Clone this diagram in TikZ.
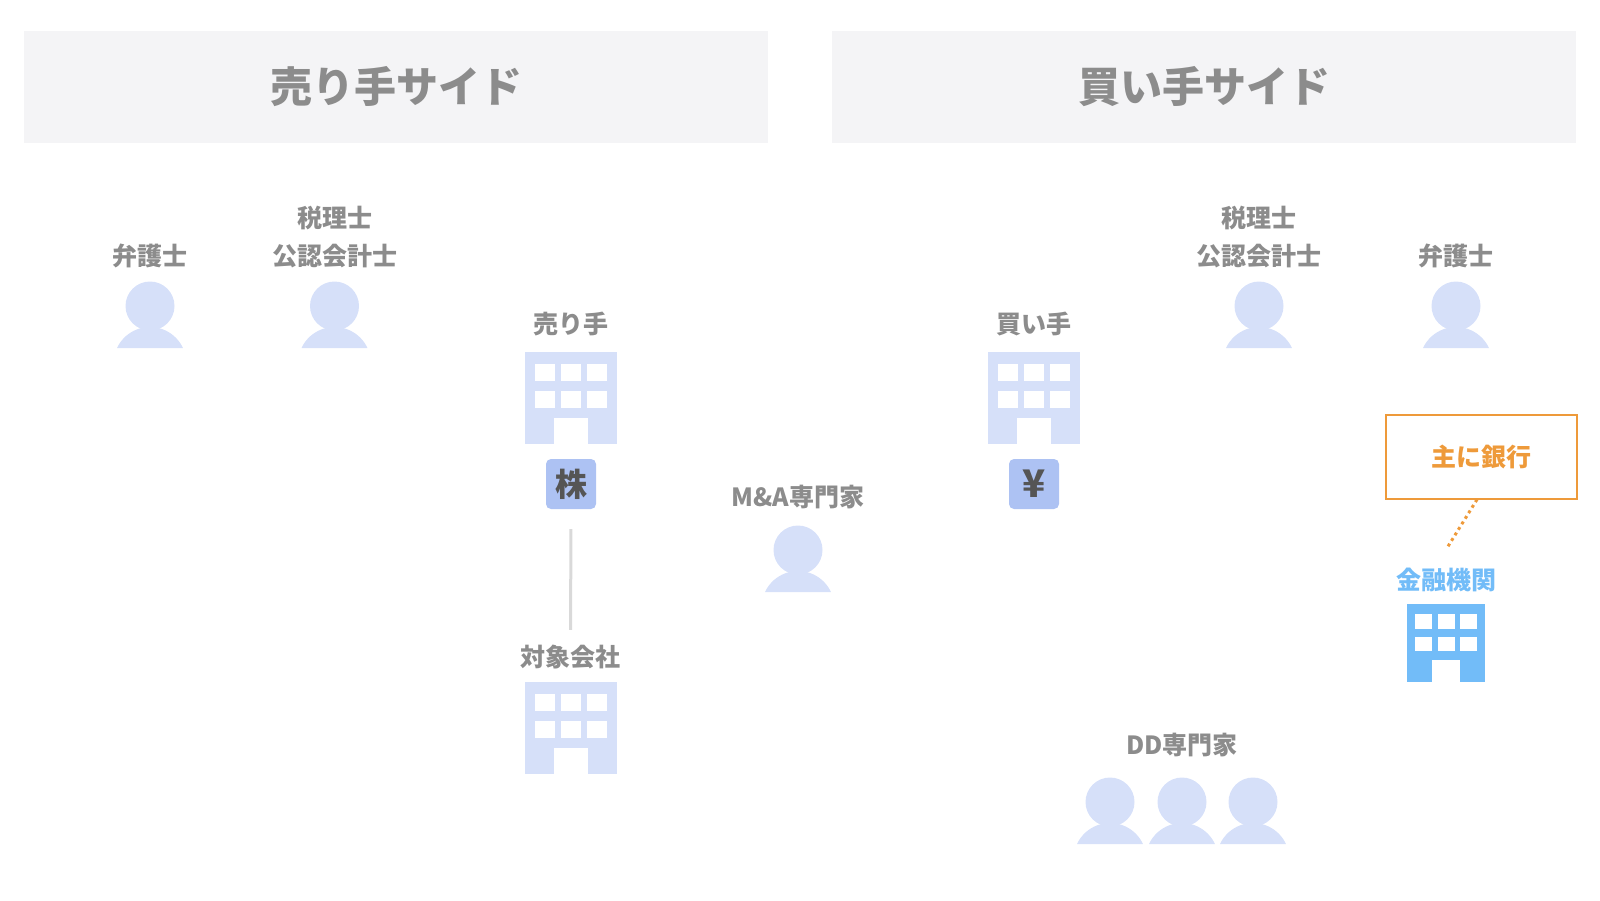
\documentclass[tikz,border=0pt]{standalone}
\usepackage{fontspec}
\setmainfont{Noto Sans CJK JP}
\usetikzlibrary{positioning,calc}
\definecolor{ink}{HTML}{8C8C8C}
\definecolor{band}{HTML}{F4F4F6}
\definecolor{pale}{HTML}{D6E0F9}
\definecolor{chip}{HTML}{ADC2F3}
\definecolor{chipink}{HTML}{555555}
\definecolor{sky}{HTML}{72BCF8}
\definecolor{amber}{HTML}{EE9A3A}
\definecolor{rulegrey}{HTML}{D9D9D9}
\tikzset{
  headband/.style={fill=band,inner sep=0,minimum width=744pt,minimum height=112pt,text=ink,font=\fontsize{42}{42}\selectfont\bfseries},
  lab/.style={text=ink,align=center,inner sep=0,font=\fontsize{25}{38}\selectfont\bfseries},
  chipbox/.style={fill=chip,rounded corners=5pt,minimum size=50pt,inner sep=0,text=chipink,font=\fontsize{32}{32}\selectfont\bfseries}
}
\begin{document}
\begin{tikzpicture}[x=1pt,y=-1pt]
  \useasboundingbox (0,0) rectangle (1600,900);
  % macros: name, x, y (bottom for a person, centre for a building)
  \def\person#1#2#3{
    \coordinate (#1) at (#2,#3);
    \fill[pale] ($(#1)+(0,-42)$) circle (24.5);
    \fill[pale] ($(#1)+(-33,0)$) arc[start angle=205,end angle=335,radius=36.4] -- cycle;}
  \def\building#1#2#3#4#5{
    \node[fill=#5,minimum size=#4*92pt,inner sep=0] (#1) at (#2,#3) {};
    \begin{scope}[shift={(#2,#3)},scale=#4]
      \foreach \wx in {-36,-10,16} \foreach \wy in {-34,-7}
        \fill[white] (\wx,\wy) rectangle ++(20,17);
      \fill[white] (-17,20) rectangle (17,46);
    \end{scope}}
  % side headers
  \node[headband] (sellband) at (396,87) {売り手サイド};
  \node[headband] (buyband) at (1204,87) {買い手サイド};
  % seller side
  \node[lab] (sellbengo) at (150,256) {弁護士};
  \person{sellbengop}{150}{348}
  \node[lab] (sellzeiri) at (334.5,237) {税理士\\公認会計士};
  \person{sellzeirip}{334.5}{348}
  \node[lab] (seller) at (571,324) {売り手};
  \building{sellerb}{571}{398}{1}{pale}
  \node[chipbox] (kabu) at (571,484) {株};
  \node[lab] (taisho) at (570.5,657) {対象会社};
  \building{taishob}{571}{728}{1}{pale}
  \draw[rulegrey,line width=3pt,shorten <=20pt,shorten >=15pt] (kabu.south) -- (taisho.north);
  % middle
  \node[lab] (mna) at (798,497) {M\&A専門家};
  \person{mnap}{798}{592}
  % buyer side
  \node[lab] (buyer) at (1034,324) {買い手};
  \building{buyerb}{1034}{398}{1}{pale}
  \node[chipbox] (yen) at (1034,484) {\fontsize{38}{38}\selectfont ¥};
  \node[lab] (buyzeiri) at (1259,237) {税理士\\公認会計士};
  \person{buyzeirip}{1259}{348}
  \node[lab] (buybengo) at (1456,256) {弁護士};
  \person{buybengop}{1456}{348}
  \node[draw=amber,line width=2pt,minimum width=191pt,minimum height=84pt,inner sep=0,text=amber,font=\fontsize{25}{25}\selectfont\bfseries] (ginko) at (1481,456.5) {主に銀行};
  \node[lab,text=sky] (kinyu) at (1446,580) {金融機関};
  \building{kinyub}{1446}{643}{0.848}{sky}
  \coordinate (dotend) at (1447,548);
  \draw[amber,line width=3pt,dash pattern=on 3pt off 3.5pt] ([xshift=-4pt]ginko.south) -- (dotend);
  \node[lab] (dd) at (1182,745) {DD専門家};
  \person{ddp1}{1110}{844}
  \person{ddp2}{1182}{844}
  \person{ddp3}{1253}{844}
\end{tikzpicture}
\end{document}
